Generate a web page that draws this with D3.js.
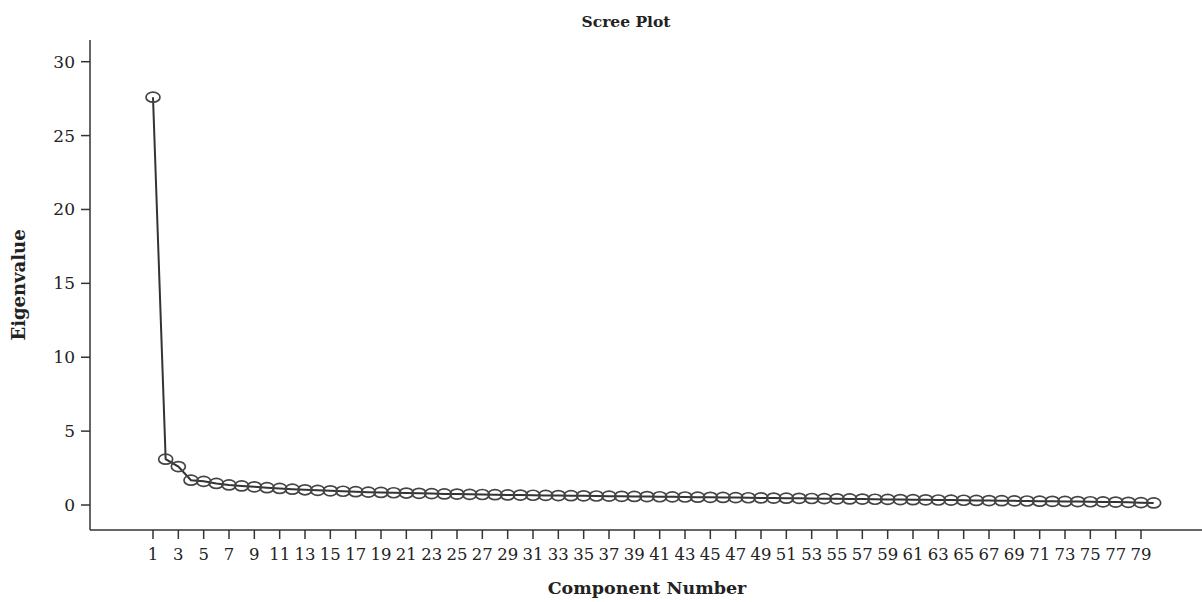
<!DOCTYPE html>
<html>
<head>
<meta charset="utf-8">
<script src="https://cdn.jsdelivr.net/npm/d3@7"></script>
<style>
  body { margin: 0; background: #fff; }
  svg text { font-family: "DejaVu Serif", "Liberation Serif", serif; fill: #222; }
</style>
</head>
<body>
<div class="graph"></div>
<script>
// component numbers and eigenvalues
const components = d3.range(1, 81);
const eigenvalues = [
  27.6, 3.1, 2.6, 1.68, 1.6, 1.46, 1.36, 1.29, 1.23, 1.17,
  1.12, 1.07, 1.03, 0.99, 0.96, 0.93, 0.9, 0.87, 0.85, 0.83,
  0.81, 0.79, 0.77, 0.75, 0.74, 0.72, 0.71, 0.7, 0.68, 0.67,
  0.66, 0.65, 0.64, 0.63, 0.62, 0.61, 0.6, 0.59, 0.58, 0.57,
  0.56, 0.55, 0.54, 0.53, 0.52, 0.51, 0.5, 0.49, 0.48, 0.47,
  0.46, 0.45, 0.44, 0.43, 0.42, 0.41, 0.4, 0.39, 0.38, 0.37,
  0.36, 0.35, 0.34, 0.33, 0.32, 0.31, 0.3, 0.29, 0.28, 0.27,
  0.26, 0.25, 0.24, 0.23, 0.22, 0.21, 0.2, 0.18, 0.16, 0.14
];
const xTicks = d3.range(1, 80, 2);
const yTicks = [0, 5, 10, 15, 20, 25, 30];

const width = 1202, height = 602;

const svg = d3.select('.graph').append('svg')
  .attr('width', width)
  .attr('height', height);

const x = d3.scaleLinear().domain([1, 79]).range([153, 1141]);
const y = d3.scaleLinear().domain([0, 30]).range([505, 61.7]);

const axisX = 90, axisY = 530;

// x axis
const gx = svg.append('g').attr('transform', `translate(0,${axisY})`);
gx.append('line')
  .attr('x1', axisX).attr('x2', width)
  .attr('stroke', '#333').attr('stroke-width', 1.5);
const tx = gx.selectAll('.tick').data(xTicks).enter().append('g')
  .attr('class', 'tick')
  .attr('transform', d => `translate(${x(d)},0)`);
tx.append('line').attr('y2', 9).attr('stroke', '#333').attr('stroke-width', 1.5);
tx.append('text').attr('y', 30).attr('text-anchor', 'middle')
  .style('font-size', '16.5px').text(d => d);

// y axis
const gy = svg.append('g').attr('transform', `translate(${axisX},0)`);
gy.append('line')
  .attr('y1', 40).attr('y2', axisY)
  .attr('stroke', '#333').attr('stroke-width', 1.5);
const ty = gy.selectAll('.tick').data(yTicks).enter().append('g')
  .attr('class', 'tick')
  .attr('transform', d => `translate(0,${y(d)})`);
ty.append('line').attr('x2', -9).attr('stroke', '#333').attr('stroke-width', 1.5);
ty.append('text').attr('x', -15).attr('dy', '0.35em').attr('text-anchor', 'end')
  .style('font-size', '17px').text(d => d);

// line + markers
const pts = components.map((c, i) => [c, eigenvalues[i]]);
const line = d3.line().x(d => x(d[0])).y(d => y(d[1]));

svg.append('path')
  .datum(pts)
  .attr('fill', 'none')
  .attr('stroke', '#333')
  .attr('stroke-width', 2)
  .attr('d', line);

svg.append('g').selectAll('ellipse').data(pts).enter().append('ellipse')
  .attr('cx', d => x(d[0]))
  .attr('cy', d => y(d[1]))
  .attr('rx', 7).attr('ry', 5)
  .attr('fill', 'none')
  .attr('stroke', '#444')
  .attr('stroke-width', 1.7);

// titles
svg.append('text').attr('x', 626).attr('y', 27).attr('text-anchor', 'middle')
  .style('font-size', '15.5px').style('font-weight', 'bold').text('Scree Plot');
svg.append('text').attr('x', 647).attr('y', 594).attr('text-anchor', 'middle')
  .style('font-size', '17.5px').style('font-weight', 'bold').text('Component Number');
svg.append('text')
  .attr('transform', 'translate(25,285) rotate(-90)')
  .attr('text-anchor', 'middle')
  .style('font-size', '18px').style('font-weight', 'bold').text('Eigenvalue');
</script>
</body>
</html>
